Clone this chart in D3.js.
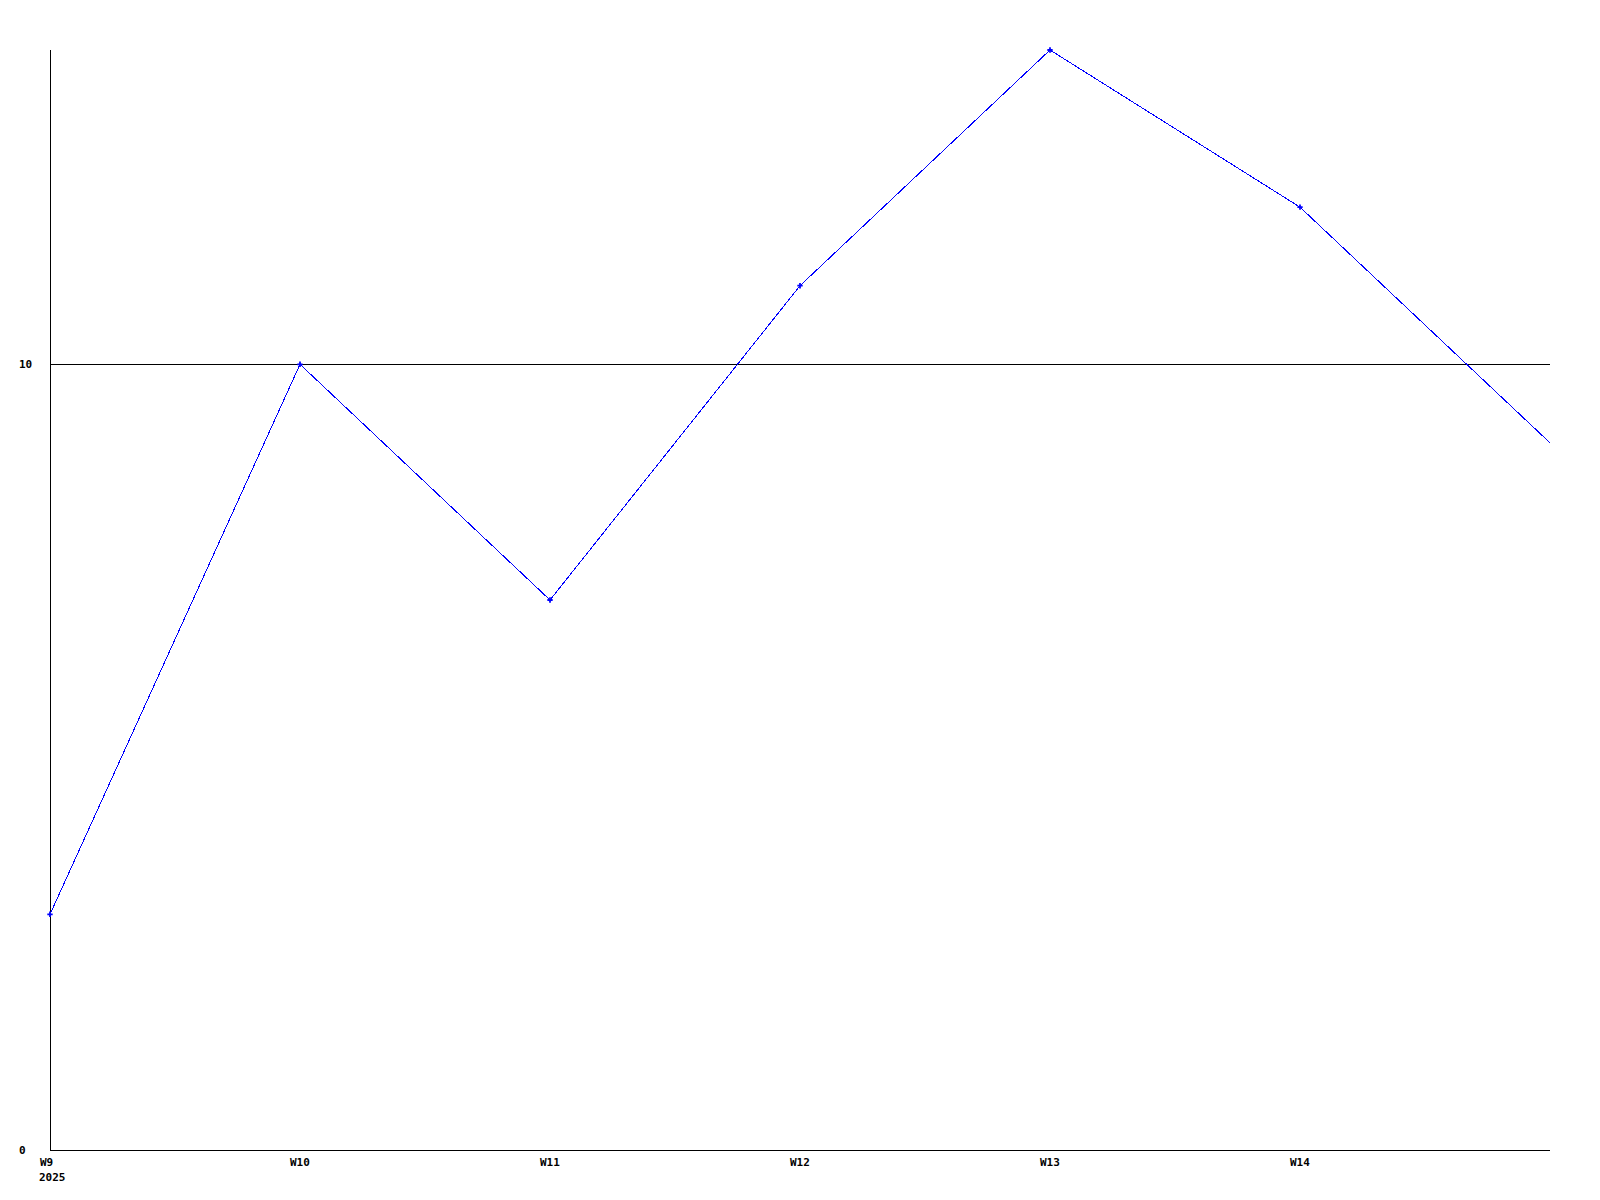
<!DOCTYPE html>
<html><head><meta charset="utf-8">
<script src="https://cdn.jsdelivr.net/npm/d3@7"></script>
<style>body{margin:0;background:#fff}svg{display:block}text{font-family:"DejaVu Sans Mono",monospace;font-weight:bold;font-size:11px;fill:#000}</style>
</head><body>
<svg id="c" width="1600" height="1200"></svg>
<script>
const weeks = ["W9","W10","W11","W12","W13","W14","W15"];
const weekLabels = ["W9","W10","W11","W12","W13","W14",""];
const values = [3,10,7,11,14,12,9];
const yTicks = [0,10];
const yearLabel = "2025";

(function(){
const svg = d3.select("#c");
const mL = 50, mR = 1550, mT = 50, mB = 1150;
const x = d3.scalePoint().domain(weeks).range([mL, mR]);
const y = d3.scaleLinear().domain([0,14]).range([mB, mT]);

svg.selectAll(".grid").data(yTicks.filter(d=>d>0)).enter().append("line")
  .attr("x1", mL).attr("x2", mR).attr("y1", d=>y(d)+0.5).attr("y2", d=>y(d)+0.5)
  .attr("stroke","#000").attr("stroke-width",1).attr("shape-rendering","crispEdges");

svg.append("line").attr("x1",mL+0.5).attr("x2",mL+0.5).attr("y1",mT).attr("y2",mB)
  .attr("stroke","#000").attr("shape-rendering","crispEdges");
svg.append("line").attr("x1",mL).attr("x2",mR).attr("y1",mB+0.5).attr("y2",mB+0.5)
  .attr("stroke","#000").attr("shape-rendering","crispEdges");

svg.selectAll(".yl").data(yTicks).enter().append("text")
  .attr("x",19).attr("y",d=>y(d)).attr("dy","0.35em").text(d=>d);

svg.selectAll(".xl").data(weeks).enter().append("text")
  .attr("x",d=>x(d)-10).attr("y",mB+16).text((d,i)=>weekLabels[i]);
svg.append("text").attr("x",x(weeks[0])-11).attr("y",mB+31).text(yearLabel);

const line = d3.line().x((d,i)=>x(weeks[i])).y(d=>y(d));
svg.append("path").datum(values).attr("d",line).attr("fill","none")
  .attr("stroke","#0000ff").attr("stroke-width",1).attr("shape-rendering","crispEdges");

svg.selectAll(".m").data(values.slice(0,6)).enter().append("path")
  .attr("d", d3.symbol().type(d3.symbolCross).size(16))
  .attr("transform",(d,i)=>`translate(${x(weeks[i])},${y(d)})`)
  .attr("fill","#0000ff");
})();
</script>
</body></html>
